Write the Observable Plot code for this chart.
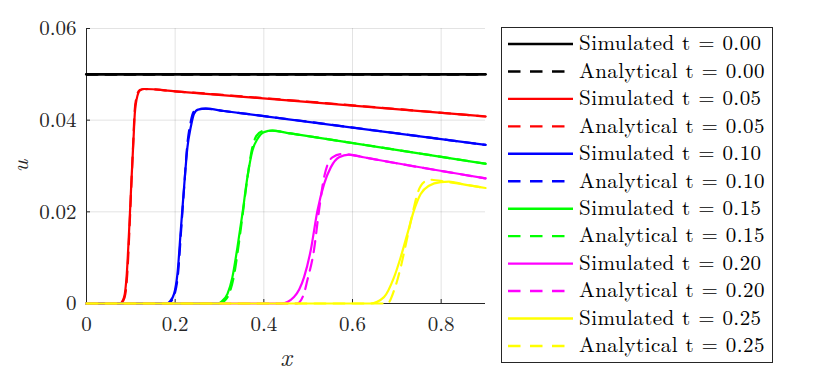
<!DOCTYPE html>
<html><head><meta charset="utf-8">
<script src="https://cdn.jsdelivr.net/npm/d3@7"></script>
<script src="https://cdn.jsdelivr.net/npm/@observablehq/plot@0.6"></script>
<style>body{margin:0;background:#fff;} #chart svg{display:block;}</style>
</head><body><div id="chart"></div>
<script>
const times = ["0.00","0.05","0.10","0.15","0.20","0.25"];
const seriesColors = ["#000000","#ff0000","#0000ff","#00ff00","#ff00ff","#ffff00"];
const xTicks = [0, 0.2, 0.4, 0.6, 0.8];
const yTicks = [0, 0.02, 0.04, 0.06];

// [x, u] pairs
const sim000 = [[0,0.05],[0.9,0.05]];
const ana000 = [[0,0.05],[0.9,0.05]];
const sim005 = [[0,0],[0.076,0],[0.0815,0.0006],[0.0864,0.0021],[0.0909,0.0065],[0.0961,0.0159],[0.1014,0.0268],[0.1059,0.0356],[0.1089,0.0414],[0.1134,0.0447],[0.1209,0.0465],[0.13,0.0468],[0.2,0.0463],[0.9,0.0408]];
const ana005 = [[0,0],[0.077,0],[0.0828,0.0006],[0.0877,0.0021],[0.092,0.0065],[0.0968,0.0159],[0.1016,0.0268],[0.1056,0.0356],[0.1083,0.0414],[0.1126,0.0449],[0.12,0.0466],[0.13,0.0468],[0.2,0.0463],[0.9,0.0408]];
const sim010 = [[0,0],[0.182,0],[0.1875,0.0004],[0.1975,0.0021],[0.2052,0.0065],[0.2126,0.0159],[0.2201,0.0254],[0.2277,0.0341],[0.2352,0.0385],[0.2426,0.0414],[0.2516,0.0423],[0.269,0.0425],[0.31,0.042],[0.9,0.0346]];
const ana010 = [[0,0],[0.185,0],[0.19,0.0004],[0.199,0.0021],[0.2065,0.0065],[0.2134,0.0159],[0.2203,0.0254],[0.2272,0.0345],[0.2342,0.0392],[0.2415,0.0418],[0.2505,0.0424],[0.269,0.0425],[0.31,0.042],[0.9,0.0346]];
const sim015 = [[0,0],[0.298,0],[0.3028,0.0003],[0.318,0.0021],[0.329,0.0057],[0.3405,0.0123],[0.3517,0.0196],[0.363,0.0276],[0.3743,0.0334],[0.3856,0.0359],[0.4005,0.0374],[0.4194,0.0377],[0.46,0.0371],[0.9,0.0305]];
const ana015 = [[0,0],[0.303,0],[0.308,0.0003],[0.3215,0.0021],[0.332,0.0057],[0.3425,0.0123],[0.3525,0.0196],[0.3632,0.0276],[0.3735,0.0338],[0.3835,0.0366],[0.398,0.0376],[0.4194,0.0377],[0.46,0.0371],[0.9,0.0305]];
const sim020 = [[0,0],[0.44,0],[0.468,0.0014],[0.4906,0.0057],[0.5058,0.0116],[0.521,0.0203],[0.536,0.0261],[0.551,0.0297],[0.5696,0.0319],[0.592,0.0325],[0.625,0.0319],[0.9,0.0273]];
const ana020 = [[0,0],[0.475,0],[0.49,0.002],[0.498,0.005],[0.513,0.0116],[0.5245,0.0203],[0.536,0.0276],[0.5547,0.0319],[0.575,0.0326],[0.592,0.0325],[0.625,0.0319],[0.9,0.0273]];
const sim025 = [[0,0],[0.64,0],[0.671,0.0014],[0.6936,0.0057],[0.7087,0.0101],[0.7238,0.0152],[0.7387,0.0203],[0.7538,0.0239],[0.7725,0.0257],[0.7989,0.0265],[0.8176,0.0266],[0.85,0.026],[0.9,0.0252]];
const ana025 = [[0,0],[0.6786,0],[0.6936,0.0028],[0.7087,0.0079],[0.7238,0.0145],[0.7387,0.021],[0.7463,0.0239],[0.7613,0.0265],[0.776,0.027],[0.814,0.0265],[0.85,0.026],[0.9,0.0252]];

const simulated = [sim000, sim005, sim010, sim015, sim020, sim025];
const analytical = [ana000, ana005, ana010, ana015, ana020, ana025];

const ink = "#262626";
const fam = "Latin Modern Roman, Liberation Serif, serif";
const lineMarks = [];
times.forEach((t, i) => {
  const w = i === 0 ? 2.8 : 2.2;
  lineMarks.push(Plot.line(simulated[i], {x: d => d[0], y: d => d[1], stroke: seriesColors[i], strokeWidth: w, curve: "monotone-x"}));
  lineMarks.push(Plot.line(analytical[i], {x: d => d[0], y: d => d[1], stroke: seriesColors[i], strokeWidth: w, strokeDasharray: "11,8", curve: "monotone-x"}));
});

const svg = Plot.plot({
  width: 837, height: 372,
  marginLeft: 86, marginRight: 352, marginTop: 28, marginBottom: 69,
  style: `font-family: ${fam}; font-size: 21px; color: ${ink}; background: #fff;`,
  x: {domain: [0, 0.9]},
  y: {domain: [0, 0.06]},
  marks: [
    Plot.gridX(xTicks, {stroke: ink, strokeOpacity: 0.13}),
    Plot.gridY(yTicks, {stroke: ink, strokeOpacity: 0.13}),
    Plot.axisX(xTicks, {tickSize: 0, tickPadding: 13, tickFormat: d => d === 0 ? "0" : String(d), label: null}),
    Plot.axisY(yTicks, {tickSize: 0, tickPadding: 10, tickFormat: d => d === 0 ? "0" : d.toFixed(2), label: null}),
    Plot.axisX(xTicks, {tickSize: -4, text: null, label: null}),
    Plot.axisY(yTicks, {tickSize: -4, text: null, label: null}),
    Plot.ruleX([0], {stroke: ink, strokeWidth: 1}),
    Plot.ruleY([0], {stroke: ink, strokeWidth: 1}),
    ...lineMarks,
    Plot.text(["u"], {frameAnchor: "left", textAnchor: "middle", lineAnchor: "middle", dx: -66, rotate: -90, fontStyle: "italic", fontSize: 23, fill: ink}),
    Plot.text(["x"], {frameAnchor: "bottom", textAnchor: "middle", lineAnchor: "middle", dy: 54, fontStyle: "italic", fontSize: 25, fill: ink})
  ]
});

// Legend box (MATLAB-style, inside the same SVG)
const lg = d3.select(svg).append("g").attr("class", "legend").attr("text-anchor", "start");
lg.append("rect").attr("x", 501.5).attr("y", 27.5).attr("width", 271).attr("height", 335)
  .attr("fill", "#fff").attr("stroke", ink).attr("stroke-width", 1);
const entries = [];
times.forEach((t, i) => {
  entries.push({label: `Simulated t = ${t}`, color: seriesColors[i], dashed: false});
  entries.push({label: `Analytical t = ${t}`, color: seriesColors[i], dashed: true});
});
entries.forEach((e, k) => {
  const y = 44 + k * 27.45;
  lg.append("line").attr("x1", 508).attr("x2", e.dashed ? 567 : 573).attr("y1", y).attr("y2", y)
    .attr("stroke", e.color).attr("stroke-width", 2.4)
    .attr("stroke-dasharray", e.dashed ? "12.5,9.5" : null);
  lg.append("text").attr("x", 579).attr("y", y + 6.3)
    .attr("text-anchor", "start").attr("font-size", 21).attr("letter-spacing", 0.45)
    .attr("fill", "#000").text(e.label);
});

d3.select(svg).attr("font-family", fam);
svg.querySelectorAll("text").forEach(t => t.style.setProperty("font-family", fam, "important"));

document.getElementById("chart").appendChild(svg);
</script>
</body></html>
